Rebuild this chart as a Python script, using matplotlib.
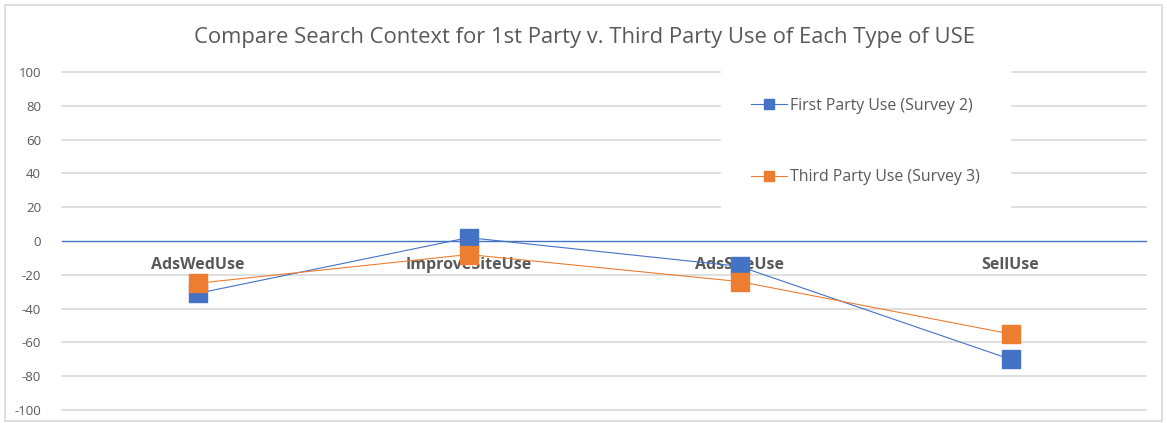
import matplotlib
matplotlib.use("Agg")
import matplotlib.pyplot as plt
from matplotlib.patches import Rectangle

categories = ["AdsWedUse", "ImproveSiteUse", "AdsSiteUse", "SellUse"]
first_party = [-31, 2, -15, -70]
third_party = [-25, -8, -24, -55]
yticks = [100, 80, 60, 40, 20, 0, -20, -40, -60, -80, -100]
title = "Compare Search Context for 1st Party v. Third Party Use of Each Type of USE"
series_names = ["First Party Use (Survey 2)", "Third Party Use (Survey 3)"]

BLUE = "#4472C4"
ORANGE = "#ED7D31"
GRAY = "#595959"
GRID = "#D9D9D9"

plt.rcParams['font.family'] = ['Open Sans', 'DejaVu Sans']

fig = plt.figure(figsize=(11.67, 4.23), dpi=100)
fig.patch.set_facecolor("white")
fig.add_artist(Rectangle((0.004, 0.004), 0.992, 0.985, transform=fig.transFigure,
                         fill=False, edgecolor=GRID, linewidth=1.2))

ax = fig.add_axes([62/1167, 1-410/423, (1146-62)/1167, (410-72)/423])
x = list(range(len(categories)))
ax.set_xlim(-0.5, len(categories) - 0.5)
ax.set_ylim(-100, 100)

for yv in yticks:
    if yv != 0:
        ax.axhline(yv, color=GRID, lw=1.2, zorder=0, clip_on=False)
ax.axhline(0, color=BLUE, lw=1.0, zorder=1, clip_on=False)

l1, = ax.plot(x, first_party, color=BLUE, lw=0.8, marker='s', markersize=12.5,
              markeredgecolor=BLUE, zorder=3, label=series_names[0])
l2, = ax.plot(x, third_party, color=ORANGE, lw=0.8, marker='s', markersize=12.5,
              markeredgecolor=ORANGE, zorder=4, label=series_names[1])

for xi, cat in zip(x, categories):
    ax.text(xi, -14, cat, ha='center', va='center', fontsize=11.5, fontweight='bold',
            color=GRAY, zorder=2)

ax.set_yticks(yticks)
ax.set_yticklabels([str(v) for v in yticks], fontsize=9.5, color=GRAY)
ax.tick_params(axis='y', length=0, pad=15)
ax.set_xticks([])
for s in ax.spines.values():
    s.set_visible(False)

leg = ax.legend(handles=[l1, l2], loc='upper left', bbox_to_anchor=(713/1167, 1-60/423),
                bbox_transform=fig.transFigure, frameon=True, fancybox=False,
                edgecolor='white', facecolor='white', framealpha=1.0,
                fontsize=11.4, labelspacing=3.5, handlelength=2.3, handletextpad=0.15,
                markerscale=0.58, borderpad=1.9)
for t in leg.get_texts():
    t.set_color(GRAY)
leg.set_zorder(5)

fig.text(585/1167, 1-37/423, title, ha='center', va='center', fontsize=15.8, color=GRAY)

fig.savefig("out.png", dpi=100, facecolor="white")
